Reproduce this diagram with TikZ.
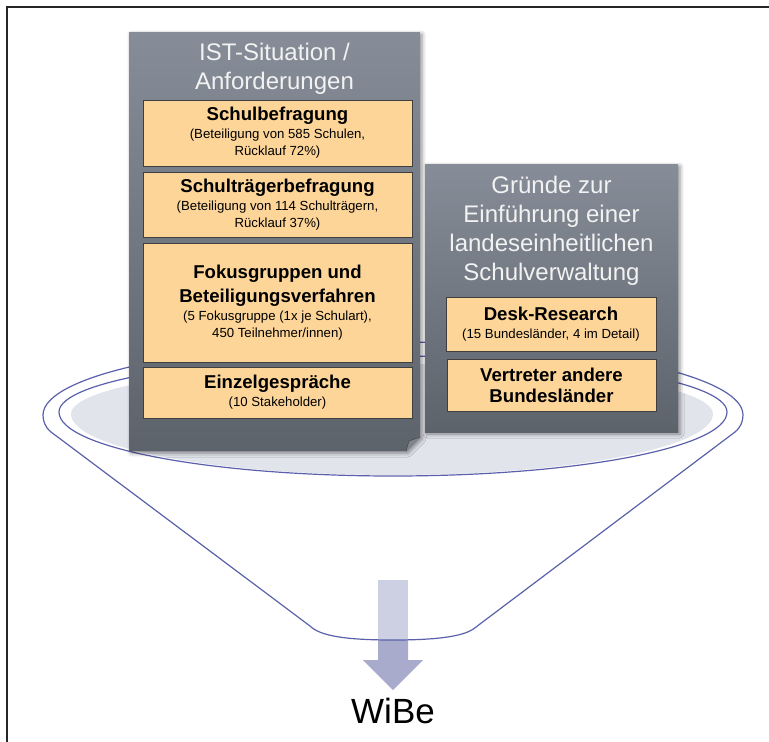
\documentclass[tikz,border=0pt]{standalone}
\usepackage{fontspec}
\setmainfont{Liberation Sans}
\usetikzlibrary{shadows.blur}

\definecolor{panelTop}{HTML}{878D98}
\definecolor{panelBot}{HTML}{5D636B}
\definecolor{boxFill}{HTML}{FDD598}
\definecolor{boxLine}{HTML}{3F3F3F}
\definecolor{funnelLine}{HTML}{5B60AA}
\definecolor{bowlFill}{HTML}{E2E4EC}
\definecolor{arrowLight}{HTML}{CDD0E2}
\definecolor{arrowDark}{HTML}{A8ABCC}
\definecolor{titleText}{HTML}{F2F2F2}
\definecolor{foldFill}{HTML}{80858D}

\newcommand\boxhead{\fontsize{18.6}{21}\selectfont\bfseries}
\newcommand\boxsub{\fontsize{13.2}{17}\selectfont}

\tikzset{
  panel/.style={top color=panelTop, bottom color=panelBot,
    blur shadow={shadow xshift=2pt, shadow yshift=-2pt,
      shadow blur radius=4pt, shadow opacity=45}},
  paneltitle/.style={text=titleText, align=center, inner sep=0pt,
    font=\fontsize{24}{29}\selectfont},
  infobox/.style={draw=boxLine, line width=0.9pt, fill=boxFill,
    align=center, inner sep=0pt, font=\boxsub},
  funnel/.style={draw=funnelLine, line width=1.2pt},
}

\begin{document}
\begin{tikzpicture}[x=1pt, y=-1pt]
\useasboundingbox (0,0) rectangle (769,742);

% frame
\draw[line width=1.6pt, black!85] (7,742) -- (7,7) -- (769,7);

% funnel: bowl, rim and body
\fill[bowlFill] (71,414) arc[start angle=180, end angle=360, x radius=321, y radius=50]
  arc[start angle=0, end angle=180, x radius=321, y radius=61] -- cycle;
\draw[funnel] (59,412) arc[start angle=180, end angle=360, x radius=334, y radius=56]
  arc[start angle=0, end angle=180, x radius=334, y radius=64] -- cycle;

% output arrow
\fill[arrowLight] (378,580) rectangle (408,640);
\fill[arrowDark] (378,640) -- (408,640) -- (408,660) -- (423,660) -- (393,690)
  -- (363,660) -- (378,660) -- cycle;

\draw[funnel] (310,626) -- (51,432) .. controls (45,427) and (43,421) .. (43,415)
  arc[start angle=180, end angle=360, x radius=350, y radius=73]
  .. controls (743,421) and (741,427) .. (735,432) -- (476,627)
  .. controls (466,636) and (440,640) .. (393,640)
  .. controls (346,640) and (320,636) .. (310,626);

\node[font=\fontsize{35}{40}\selectfont, inner sep=0pt] (wibe) at (393,711) {WiBe};

% left panel with folded corner
\path[panel] (129,32) -- (420,32) -- (420,437) -- (406,451) -- (129,451) -- cycle;
\fill[foldFill] (420,437) -- (406,451) -- (409,441) -- cycle;
\draw[panelBot!70!black, line width=0.5pt] (420,437) -- (409,441) -- (406,451);

\node[paneltitle] (istTitle) at (274.5,69) {IST-Situation /\\Anforderungen};

\node[infobox, minimum width=269pt, minimum height=66pt] (schul) at (277.5,133)
  {{\boxhead Schulbefragung}\\[1pt](Beteiligung von 585 Schulen,\\Rücklauf 72\%)};
\node[infobox, minimum width=269pt, minimum height=65pt] (traeger) at (277.5,204.5)
  {{\boxhead Schulträgerbefragung}\\[1pt](Beteiligung von 114 Schulträgern,\\Rücklauf 37\%)};
\node[infobox, minimum width=269pt, minimum height=119pt] (fokus) at (277.5,302.5)
  {{\boxhead Fokusgruppen und}\\[6pt]{\boxhead Beteiligungsverfahren}\\[1pt](5 Fokusgruppe (1x je Schulart),\\450 Teilnehmer/innen)};
\node[infobox, minimum width=269pt, minimum height=51pt] (einzel) at (277.5,392.5)
  {{\boxhead Einzelgespräche}\\[1pt](10 Stakeholder)};

% right panel
\path[panel] (425,164) rectangle (678,432);

\node[paneltitle] (grTitle) at (551.5,231) {Gründe zur\\Einführung einer\\landeseinheitlichen\\Schulverwaltung};

\node[infobox, minimum width=210pt, minimum height=54pt] (desk) at (551,324)
  {{\boxhead Desk-Research}\\[1pt](15 Bundesländer, 4 im Detail)};
\node[infobox, minimum width=209pt, minimum height=52pt, font=\boxhead] (vertreter) at (551.5,385)
  {Vertreter andere\\Bundesländer};
\end{tikzpicture}
\end{document}
